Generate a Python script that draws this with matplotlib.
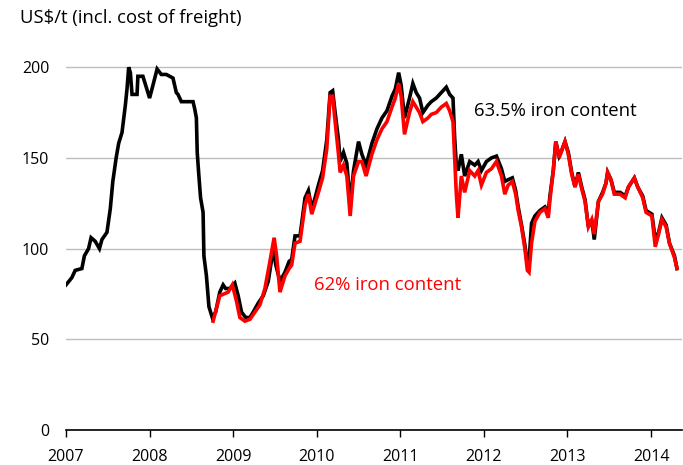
"""Iron ore price, 63.5% vs 62% iron content (US$/t incl. freight)."""

import matplotlib
matplotlib.use("Agg")
import matplotlib.pyplot as plt

# ---------------------------------------------------------------------------
# Data
# ---------------------------------------------------------------------------
fe635_years = [
    2007.00, 2007.07, 2007.11, 2007.19, 2007.22, 2007.27, 2007.30, 2007.35,
    2007.40, 2007.43, 2007.49, 2007.53, 2007.56, 2007.60, 2007.63, 2007.67,
    2007.71, 2007.73, 2007.75, 2007.77, 2007.79, 2007.85, 2007.86, 2007.92,
    2008.00, 2008.04, 2008.09, 2008.14, 2008.20, 2008.28, 2008.32, 2008.34,
    2008.38, 2008.52, 2008.54, 2008.56, 2008.57, 2008.59, 2008.61, 2008.64,
    2008.65, 2008.68, 2008.71, 2008.75, 2008.79, 2008.84, 2008.88, 2008.91,
    2008.96, 2009.02, 2009.06, 2009.10, 2009.15, 2009.20, 2009.24, 2009.30,
    2009.36, 2009.42, 2009.48, 2009.51, 2009.56, 2009.62, 2009.67, 2009.70,
    2009.74, 2009.80, 2009.86, 2009.90, 2009.94, 2009.98, 2010.02, 2010.07,
    2010.12, 2010.16, 2010.19, 2010.22, 2010.26, 2010.28, 2010.32, 2010.36,
    2010.40, 2010.44, 2010.50, 2010.54, 2010.59, 2010.66, 2010.72, 2010.78,
    2010.84, 2010.90, 2010.94, 2010.98, 2011.01, 2011.05, 2011.11, 2011.15,
    2011.19, 2011.23, 2011.27, 2011.33, 2011.37, 2011.43, 2011.49, 2011.55,
    2011.59, 2011.63, 2011.65, 2011.67, 2011.69, 2011.73, 2011.77, 2011.83,
    2011.89, 2011.93, 2011.97, 2012.03, 2012.09, 2012.15, 2012.21, 2012.25,
    2012.29, 2012.34, 2012.38, 2012.41, 2012.45, 2012.49, 2012.52, 2012.54,
    2012.57, 2012.61, 2012.67, 2012.73, 2012.77, 2012.79, 2012.83, 2012.86,
    2012.90, 2012.93, 2012.97, 2013.01, 2013.05, 2013.09, 2013.13, 2013.17,
    2013.21, 2013.25, 2013.29, 2013.32, 2013.37, 2013.42, 2013.46, 2013.48,
    2013.52, 2013.56, 2013.63, 2013.69, 2013.73, 2013.80, 2013.84, 2013.90,
    2013.94, 2014.01, 2014.05, 2014.09, 2014.13, 2014.18, 2014.22, 2014.28,
    2014.31,
]
fe635_values = [
    80, 84, 88, 89, 96, 100, 106, 104,
    100, 105, 109, 122, 137, 150, 158, 164,
    179, 188, 200, 197, 185, 185, 195, 195,
    183, 190, 199, 196, 196, 194, 186, 185,
    181, 181, 177, 172, 153, 140, 128, 120,
    96, 85, 68, 62, 65, 76, 80, 78,
    78, 81, 74, 65, 62, 62, 65, 70,
    74, 82, 100, 91, 82, 87, 93, 94,
    107, 107, 128, 132, 122, 128, 135, 143,
    160, 186, 187, 175, 160, 148, 153, 147,
    125, 143, 159, 152, 146, 158, 166, 172,
    176, 184, 188, 197, 190, 172, 183, 191,
    186, 183, 175, 179, 181, 183, 186, 189,
    185, 183, 161, 146, 143, 152, 140, 148,
    146, 148, 143, 148, 150, 151, 144, 137,
    138, 139, 132, 123, 113, 102, 91, 93,
    114, 118, 121, 123, 120, 129, 143, 159,
    151, 154, 159, 153, 142, 134, 142, 134,
    127, 112, 116, 105, 126, 131, 136, 142,
    138, 131, 131, 129, 134, 139, 134, 129,
    121, 119, 105, 109, 117, 113, 103, 96,
    89,
]

fe62_years = [
    2008.76, 2008.80, 2008.84, 2008.94, 2008.99, 2009.04, 2009.08, 2009.14,
    2009.20, 2009.26, 2009.32, 2009.38, 2009.44, 2009.49, 2009.52, 2009.56,
    2009.62, 2009.67, 2009.70, 2009.74, 2009.80, 2009.86, 2009.90, 2009.94,
    2009.98, 2010.02, 2010.07, 2010.12, 2010.16, 2010.19, 2010.22, 2010.26,
    2010.28, 2010.32, 2010.36, 2010.40, 2010.44, 2010.50, 2010.54, 2010.59,
    2010.66, 2010.72, 2010.78, 2010.84, 2010.90, 2010.94, 2010.98, 2011.01,
    2011.05, 2011.11, 2011.15, 2011.19, 2011.23, 2011.27, 2011.33, 2011.37,
    2011.43, 2011.49, 2011.55, 2011.59, 2011.63, 2011.65, 2011.67, 2011.69,
    2011.73, 2011.77, 2011.83, 2011.89, 2011.93, 2011.97, 2012.03, 2012.09,
    2012.15, 2012.21, 2012.25, 2012.29, 2012.34, 2012.38, 2012.41, 2012.45,
    2012.49, 2012.52, 2012.54, 2012.57, 2012.61, 2012.67, 2012.73, 2012.77,
    2012.79, 2012.83, 2012.86, 2012.90, 2012.93, 2012.97, 2013.01, 2013.05,
    2013.09, 2013.13, 2013.17, 2013.21, 2013.25, 2013.29, 2013.32, 2013.37,
    2013.42, 2013.46, 2013.48, 2013.52, 2013.56, 2013.63, 2013.69, 2013.73,
    2013.80, 2013.84, 2013.90, 2013.94, 2014.01, 2014.05, 2014.09, 2014.13,
    2014.18, 2014.22, 2014.28, 2014.31,
]
fe62_values = [
    60, 67, 74, 76, 80, 71, 62, 60,
    61, 65, 69, 78, 93, 106, 96, 76,
    85, 89, 91, 103, 104, 124, 130, 119,
    125, 131, 139, 155, 184, 184, 170, 152,
    142, 146, 140, 118, 140, 148, 148, 140,
    152, 160, 166, 170, 178, 183, 191, 184,
    163, 175, 181, 178, 175, 170, 172, 174,
    175, 178, 180, 176, 170, 150, 130, 117,
    140, 131, 143, 140, 143, 135, 142, 144,
    148, 140, 130, 135, 137, 130, 121, 112,
    100, 88, 87, 103, 115, 120, 122, 117,
    127, 143, 159, 150, 154, 159, 152, 141,
    134, 141, 133, 126, 112, 116, 108, 126,
    130, 136, 142, 138, 130, 130, 128, 134,
    139, 134, 128, 120, 118, 101, 108, 116,
    112, 103, 95, 89,
]

year_ticks = [2007, 2008, 2009, 2010, 2011, 2012, 2013, 2014]
value_ticks = [0, 50, 100, 150, 200]

plt.rcParams["font.family"] = ["Open Sans", "DejaVu Sans"]

fig = plt.figure(figsize=(6.83, 4.65), dpi=100)
ax = fig.add_axes([66 / 683, 35 / 465, 616 / 683, 390 / 465])

ax.plot(fe635_years, fe635_values, color="black", lw=2.6,
        solid_joinstyle="miter", zorder=3)
ax.plot(fe62_years, fe62_values, color="#ff0000", lw=2.6,
        solid_joinstyle="miter", zorder=4)

ax.set_xlim(2007, 2014.37)
ax.set_ylim(0, 215)
ax.set_xticks(year_ticks)
ax.set_xticklabels([str(y) for y in year_ticks])
ax.set_yticks(value_ticks)

ax.grid(axis="y", color="#bdbdbd", lw=1)
ax.set_axisbelow(True)
for side in ("left", "right", "top"):
    ax.spines[side].set_visible(False)
ax.spines["bottom"].set_linewidth(1.2)
ax.tick_params(axis="y", length=0, labelsize=11.5, pad=12)
ax.tick_params(axis="x", direction="out", length=5, width=1,
               labelsize=11.5, pad=9)

ax.text(2011.88, 176, "63.5% iron content", fontsize=13.3, color="black",
        va="center")
ax.text(2009.97, 80, "62% iron content", fontsize=13.3, color="#ff0000",
        va="center")
fig.text(20 / 683, 1 - 18 / 465, "US$/t (incl. cost of freight)",
         fontsize=13.3, va="center", ha="left")

fig.savefig("out.png", dpi=100)
